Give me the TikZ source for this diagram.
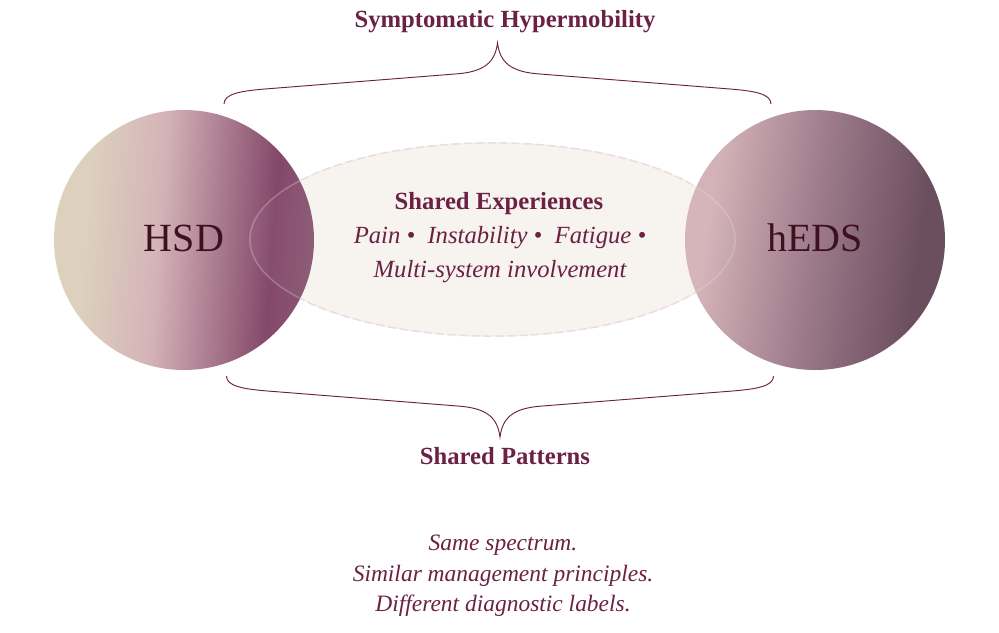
\documentclass[tikz,border=0pt]{standalone}
\usepackage{fontspec}
\setmainfont{Liberation Serif}
\usepackage{tikz}
\usetikzlibrary{shapes.geometric,positioning}

\definecolor{wine}{HTML}{6B2143}
\definecolor{plumtext}{HTML}{3E1020}
\definecolor{hsdA}{HTML}{DDD0BD}
\definecolor{hsdB}{HTML}{D4B3B8}
\definecolor{hsdC}{HTML}{84486A}
\definecolor{hsdD}{HTML}{8A5873}
\definecolor{hedsA}{HTML}{D4B3B8}
\definecolor{hedsB}{HTML}{9C7A8A}
\definecolor{hedsC}{HTML}{6C4F5F}
\definecolor{sand}{HTML}{F7F4F0}
\definecolor{blush}{HTML}{EADDDF}

\pgfdeclarehorizontalshading{hsdshade}{100bp}{color(0bp)=(hsdA); color(25bp)=(hsdA); color(31bp)=(hsdA); color(45bp)=(hsdB); color(67bp)=(hsdC); color(75bp)=(hsdD); color(100bp)=(hsdD)}
\pgfdeclarehorizontalshading{hedsshade}{100bp}{color(0bp)=(hedsA); color(25bp)=(hedsA); color(29bp)=(hedsA); color(50bp)=(hedsB); color(70bp)=(hedsC); color(100bp)=(hedsC)}

\begin{document}
\begin{tikzpicture}[x=0.75pt,y=-0.75pt,
		headtext/.style={text=wine,font=\fontsize{18.5}{22}\selectfont\bfseries},
		softtext/.style={text=wine,font=\fontsize{17.6}{23}\selectfont\itshape,align=center},
		bracestroke/.style={draw=wine,line width=0.7pt},
		oval/.style={ellipse,minimum width=364pt,minimum height=145pt}]
		\useasboundingbox (0,0) rectangle (999,632);

		\node[oval,fill=sand,draw=blush,line width=1.1pt,dash pattern=on 6pt off 3pt] (shared) at (492.5,239.5) {};

		\begin{scope}[every node/.style={circle,inner sep=0pt,minimum size=195pt,
				text=plumtext,font=\fontsize{30}{34}\selectfont}]
			\node[shading=hsdshade,shading angle=-4] (hsd) at (184,240) {\raisebox{2pt}{HSD}};
			\node[shading=hedsshade,shading angle=-8] (heds) at (815,240) {\raisebox{4pt}{hEDS}};
		\end{scope}

		\node[oval,fill=white,fill opacity=0.03,draw=blush,draw opacity=0.3,line width=1.1pt] (sheen) at (shared) {};

		\node[headtext] (exphead) at (499,204) {Shared Experiences};
		\node[softtext,font=\fontsize{18.5}{23}\selectfont\itshape] (explist) at (500,238) {Pain \textbullet\ \ Instability \textbullet\ \ Fatigue \textbullet};
		\node[softtext,font=\fontsize{18.5}{23}\selectfont\itshape] (expmore) at (500,272) {Multi-system involvement};

		\node[headtext] (spectrum) at (505,22) {Symptomatic Hypermobility};
		\node[headtext] (patterns) at (505,456) {Shared Patterns};
		\node[softtext] (summary) at (503,576) {Same spectrum.\\Similar management principles.\\Different diagnostic labels.};

		% braces
		\draw[bracestroke] (224,104) .. controls (224,94) and (240,91) .. (265,89) -- (455,74)
			.. controls (485,72) and (495,62) .. (497.5,43)
			.. controls (500,62) and (510,72) .. (540,74) -- (730,89)
			.. controls (755,91) and (771,94) .. (771,104);
		\draw[bracestroke] (226.5,376) .. controls (226.5,386) and (242.5,389) .. (267.5,391) -- (457.5,406)
			.. controls (487.5,408) and (497.5,418) .. (500,437)
			.. controls (502.5,418) and (512.5,408) .. (542.5,406) -- (732.5,391)
			.. controls (757.5,389) and (773.5,386) .. (773.5,376);
	\end{tikzpicture}
\end{document}
